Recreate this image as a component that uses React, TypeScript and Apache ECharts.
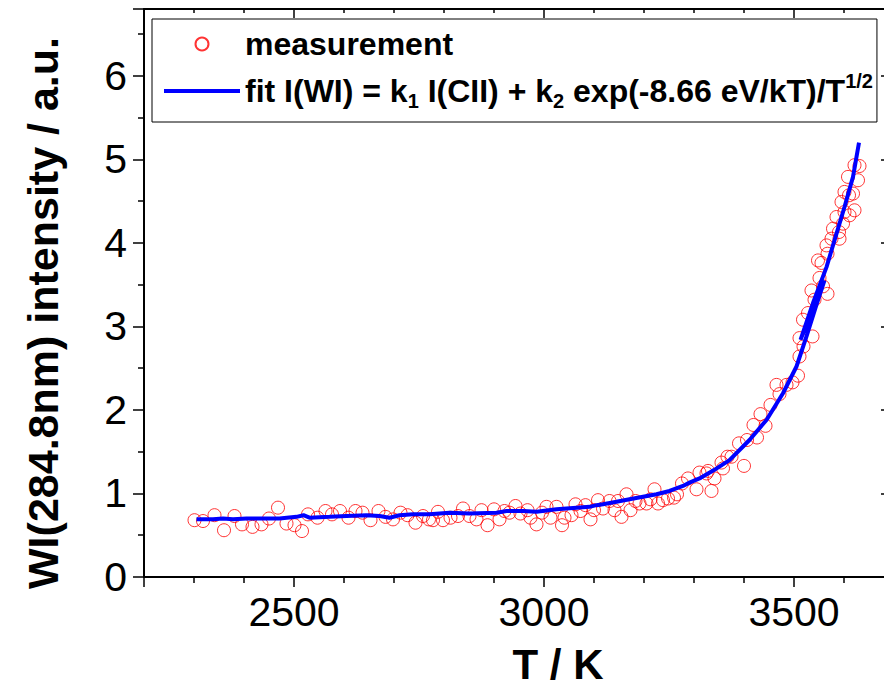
import React, { useEffect, useRef } from 'react';
import * as echarts from 'echarts';

const measT = [
  2301, 2318, 2341, 2360, 2381, 2396, 2417, 2435, 2450, 2468, 2485, 2501, 2516, 2528, 2547, 2563,
  2576, 2592, 2609, 2623, 2637, 2653, 2669, 2683, 2698, 2713, 2727, 2743, 2758, 2770, 2778, 2788,
  2798, 2813, 2828, 2838, 2851, 2865, 2875, 2887, 2900, 2911, 2921, 2931, 2943, 2953, 2967, 2973,
  2985, 2996, 3005, 3013, 3025, 3036, 3041, 3055, 3063, 3073, 3083, 3093, 3100, 3108, 3118, 3131,
  3141, 3148, 3155, 3165, 3173, 3183, 3191, 3205, 3213, 3221, 3228, 3238, 3248, 3260, 3266, 3276,
  3288, 3305, 3311, 3325, 3328, 3335, 3341, 3355, 3358, 3367, 3375, 3390, 3400, 3406, 3419, 3426,
  3433, 3443, 3453, 3465, 3471, 3485, 3497, 3508, 3511, 3511, 3518, 3519, 3528, 3535, 3537, 3541,
  3548, 3551, 3555, 3558, 3565, 3567, 3567, 3575, 3578, 3585, 3590, 3591, 3595, 3598, 3601, 3601,
  3608, 3610, 3611, 3618, 3621, 3621, 3628, 3631,
];
const measI = [
  0.68, 0.67, 0.74, 0.56, 0.73, 0.63, 0.60, 0.63, 0.70, 0.83, 0.64, 0.62, 0.55, 0.75, 0.71, 0.79,
  0.75, 0.79, 0.71, 0.79, 0.77, 0.68, 0.79, 0.72, 0.69, 0.77, 0.74, 0.65, 0.73, 0.69, 0.68, 0.78,
  0.68, 0.71, 0.73, 0.82, 0.73, 0.69, 0.80, 0.62, 0.81, 0.69, 0.79, 0.77, 0.85, 0.76, 0.80, 0.71,
  0.63, 0.77, 0.84, 0.71, 0.84, 0.62, 0.71, 0.74, 0.87, 0.79, 0.86, 0.69, 0.80, 0.92, 0.82, 0.91,
  0.80, 0.91, 0.72, 0.99, 0.80, 0.91, 0.88, 0.88, 0.93, 1.05, 0.88, 0.92, 0.94, 0.95, 0.99, 1.12,
  1.18, 1.05, 1.25, 1.24, 1.27, 1.03, 1.18, 1.37, 1.30, 1.44, 1.44, 1.60, 1.33, 1.64, 1.82, 1.67,
  1.95, 1.81, 2.06, 2.30, 2.19, 2.30, 2.33, 2.41, 2.64, 2.86, 3.08, 2.76, 3.16, 3.43, 2.88, 3.32,
  3.79, 3.58, 3.76, 3.48, 3.97, 3.87, 3.39, 4.05, 4.17, 4.31, 4.13, 4.05, 4.49, 4.23, 4.37, 4.61,
  4.79, 4.57, 4.33, 4.59, 4.39, 4.93, 4.75, 4.92,
];

const fitT = [
  2305, 2338, 2358, 2378, 2405, 2438, 2471, 2505, 2519, 2531, 2571, 2605, 2645, 2671, 2691, 2711,
  2738, 2771, 2811, 2851, 2905, 2925, 2958, 2985, 3025, 3065, 3091, 3105, 3118, 3145, 3171, 3198,
  3225, 3251, 3278, 3291, 3311, 3340, 3371, 3411, 3445, 3478, 3505, 3525, 3545, 3561, 3513, 3538,
  3565, 3585, 3601, 3618, 3630,
];
const fitI = [
  0.69, 0.69, 0.70, 0.69, 0.70, 0.70, 0.70, 0.72, 0.74, 0.71, 0.72, 0.73, 0.74, 0.73, 0.71, 0.74,
  0.75, 0.75, 0.77, 0.76, 0.77, 0.79, 0.79, 0.78, 0.81, 0.83, 0.84, 0.86, 0.87, 0.90, 0.93, 0.96,
  0.99, 1.03, 1.09, 1.13, 1.18, 1.28, 1.40, 1.64, 1.88, 2.20, 2.52, 2.88, 3.26, 3.55, 2.84, 3.28,
  3.71, 4.11, 4.43, 4.79, 5.20,
];

const xMin = 2200;
const xMax = 3700;
const yMin = 0;
const yMax = 6.8;

const FONT = '"Liberation Sans", Arial, Helvetica, sans-serif';

export default function App() {
  const ref = useRef<HTMLDivElement>(null);

  useEffect(() => {
    if (!ref.current) return;
    const chart = echarts.init(ref.current, null, { renderer: 'svg' });

    const axisLine = { show: true, onZero: false, lineStyle: { color: '#000', width: 2 } };
    const tickStyle = { color: '#000', width: 1.5 };

    const option = {
      animation: false,
      backgroundColor: '#ffffff',
      grid: {
        left: 144,
        width: 750,
        top: 9,
        bottom: 109,
        containLabel: false,
        outerBoundsMode: 'none',
      },
      legend: {
        orient: 'vertical',
        left: 152,
        top: 19,
        selectedMode: false,
        backgroundColor: '#ffffff',
        borderColor: '#000',
        borderWidth: 1,
        borderRadius: 0,
        padding: [5, 4, 11, 12],
        itemGap: 7,
        itemWidth: 76,
        itemHeight: 13,
        data: [
          { name: 'measurement' },
          { name: 'fit', icon: 'path://M0 0H76V4H0Z' },
        ],
        formatter: (name: string) =>
          name === 'fit'
            ? 'fit I(WI) = k{sub|1} I(CII) + k{sub|2} exp(-8.66 eV/kT)/T{sup|1/2}'
            : name,
        textStyle: {
          fontFamily: FONT,
          fontSize: 32,
          fontWeight: 'bold',
          color: '#000',
          lineHeight: 40,
          rich: {
            sub: {
              fontFamily: FONT,
              fontSize: 20,
              fontWeight: 'bold',
              color: '#000',
              lineHeight: 14,
              verticalAlign: 'bottom',
            },
            sup: {
              fontFamily: FONT,
              fontSize: 20,
              fontWeight: 'bold',
              color: '#000',
              lineHeight: 14,
              verticalAlign: 'top',
            },
          },
        },
      },
      xAxis: [
        {
          type: 'value',
          min: xMin,
          max: xMax,
          splitNumber: 3,
          position: 'bottom',
          name: 'T / K',
          nameLocation: 'middle',
          nameGap: 66,
          nameTextStyle: {
            fontFamily: FONT,
            fontSize: 42,
            fontWeight: 'bold',
            color: '#000',
            padding: [0, 0, 0, 78],
          },
          axisLine,
          axisTick: { show: true, inside: false, length: 10, lineStyle: tickStyle },
          minorTick: { show: true, splitNumber: 5, length: 6, lineStyle: tickStyle },
          axisLabel: {
            fontFamily: FONT,
            fontSize: 41,
            color: '#000',
            margin: 14,
            showMinLabel: false,
            showMaxLabel: false,
            formatter: (v: number) => String(v),
          },
          splitLine: { show: false },
          minorSplitLine: { show: false },
        },
        {
          type: 'value',
          min: xMin,
          max: xMax,
          splitNumber: 3,
          position: 'top',
          axisLine,
          axisTick: { show: true, inside: true, length: 9, lineStyle: tickStyle },
          minorTick: { show: true, splitNumber: 5, length: 4, lineStyle: tickStyle },
          axisLabel: { show: false },
          splitLine: { show: false },
        },
      ],
      yAxis: [
        {
          type: 'value',
          min: yMin,
          max: yMax,
          interval: 1,
          position: 'left',
          name: 'WI(284.8nm) intensity / a.u.',
          nameLocation: 'middle',
          nameGap: 80,
          nameTextStyle: {
            fontFamily: FONT,
            fontSize: 43,
            fontWeight: 'bold',
            color: '#000',
            padding: [0, 40, 0, 0],
          },
          axisLine,
          axisTick: { show: true, inside: false, length: 11, lineStyle: tickStyle },
          minorTick: { show: true, splitNumber: 2, length: 6, lineStyle: tickStyle },
          axisLabel: {
            fontFamily: FONT,
            fontSize: 41,
            color: '#000',
            margin: 17,
            showMaxLabel: false,
          },
          splitLine: { show: false },
          minorSplitLine: { show: false },
        },
        {
          type: 'value',
          min: yMin,
          max: yMax,
          interval: 1,
          position: 'right',
          axisLine,
          axisTick: { show: true, inside: true, length: 13, lineStyle: tickStyle },
          minorTick: { show: true, splitNumber: 2, length: 7, lineStyle: tickStyle },
          axisLabel: { show: false },
          splitLine: { show: false },
        },
      ],
      series: [
        {
          type: 'scatter',
          name: 'measurement',
          xAxisIndex: 0,
          yAxisIndex: 0,
          data: measT.map((t, i) => [t, measI[i]]),
          symbol: 'circle',
          symbolSize: 13,
          itemStyle: { color: 'rgba(255,255,255,0)', borderColor: '#ff0000', borderWidth: 1 },
          z: 2,
        },
        {
          type: 'line',
          name: 'fit',
          xAxisIndex: 0,
          yAxisIndex: 0,
          data: fitT.map((t, i) => [t, fitI[i]]),
          symbol: 'none',
          showSymbol: false,
          lineStyle: { color: '#0000ff', width: 4 },
          itemStyle: { color: '#0000ff' },
          z: 3,
        },
      ],
    };

    chart.setOption(option as any);
    return () => chart.dispose();
  }, []);

  return (
    <div
      ref={ref}
      style={{
        position: 'absolute',
        left: 0,
        top: 0,
        width: 884,
        height: 686,
        overflow: 'hidden',
        background: '#fff',
      }}
    />
  );
}
